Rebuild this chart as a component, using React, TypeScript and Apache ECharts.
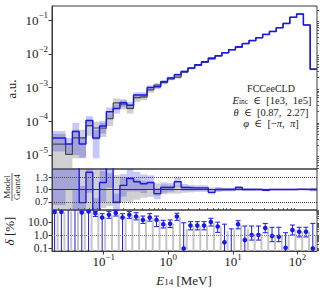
import React, { useEffect, useRef } from "react";
import * as echarts from "echarts";

// ---------- binning (log-spaced bins of E14 in MeV) ----------
const N_BINS = 39;
const LOG_E_LO = -1.8;
const LOG_E_HI = 2.3;
const EDGES = Array.from({ length: N_BINS + 1 }, (_, i) =>
  Math.pow(10, LOG_E_LO + ((LOG_E_HI - LOG_E_LO) * i) / N_BINS)
);
const CENTERS = EDGES.slice(0, N_BINS).map((e, i) => Math.sqrt(e * EDGES[i + 1]));

// ---------- data ----------
const MODEL = [
  3.2e-5, 3.2e-5, 2.1e-5, 5.0e-5, 2.1e-5, 1.05e-4, 3.2e-5, 7.2e-5, 1.9e-4, 2.4e-4,
  3.55e-4, 3.0e-4, 6.0e-4, 6.0e-4, 1.0e-3, 1.05e-3, 1.48e-3, 1.9e-3, 2.4e-3, 3.0e-3,
  3.8e-3, 4.7e-3, 5.8e-3, 7.1e-3, 8.7e-3, 1.07e-2, 1.32e-2, 1.62e-2, 2.0e-2, 2.45e-2,
  3.0e-2, 3.7e-2, 4.6e-2, 5.9e-2, 7.9e-2, 1.2e-1, 1.5e-1, 7.1e-2, 3.5e-3,
];
const GEANT4 = [
  2.1e-5, 2.1e-5, 1.05e-5, 3.2e-5, 3.2e-5, 7.4e-5, 6.3e-5, 6.2e-5, 1.2e-4, 3.5e-4,
  3.2e-4, 2.4e-4, 5.0e-4, 5.3e-4, 8.5e-4, 1.17e-3, 1.41e-3, 1.81e-3, 2.02e-3, 2.86e-3,
  3.65e-3, 4.52e-3, 5.58e-3, 7.6e-3, 8.7e-3, 1.07e-2, 1.32e-2, 1.54e-2, 2.0e-2, 2.45e-2,
  3.0e-2, 3.78e-2, 4.6e-2, 5.9e-2, 7.9e-2, 1.2e-1, 1.49e-1, 7.1e-2, 3.5e-3,
];
const MODEL_ERR = [
  0.6, 0.6, 0.5, 0.8, 0.6, 0.35, 0.75, 0.4, 0.35, 0.3,
  0.25, 0.25, 0.2, 0.2, 0.15, 0.15, 0.12, 0.1, 0.1, 0.08,
  0.07, 0.06, 0.06, 0.05, 0.05, 0.04, 0.04, 0.035, 0.03, 0.03,
  0.025, 0.025, 0.02, 0.02, 0.02, 0.02, 0.02, 0.02, 0.04,
];
const GEANT4_ERR = [
  1.0, 1.0, 1.0, 0.75, 0.75, 0.5, 0.55, 0.45, 0.4, 0.35,
  0.3, 0.3, 0.25, 0.2, 0.18, 0.15, 0.12, 0.1, 0.1, 0.08,
  0.07, 0.06, 0.06, 0.05, 0.05, 0.04, 0.04, 0.035, 0.03, 0.03,
  0.025, 0.025, 0.02, 0.02, 0.02, 0.02, 0.02, 0.02, 0.04,
];
const RATIO = [
  1.55, 1.55, 2.0, 1.6, 0.68, 1.42, 0.45, 1.17, 1.6, 0.69,
  1.1, 1.27, 1.19, 1.14, 1.17, 0.9, 1.05, 1.05, 1.19, 1.05,
  1.04, 1.04, 1.04, 0.93, 1.0, 1.0, 1.0, 1.05, 1.0, 1.0,
  1.0, 0.98, 1.0, 1.0, 1.0, 1.0, 1.01, 1.0, 1.0,
];
const DELTA = [
  63, 63, 150, 150, 57.5, 67.6, 49, 22.9, 37.2, 51.3,
  22.9, 37.2, 27.5, 15.1, 22.9, 15.1, 6.9, 7.6, 27.5, 0.089,
  5.4, 5.4, 5.4, 10.5, 4.5, 0.27, 0.03, 6.9, 0.41, 1.0,
  1.0, 3.5, 0.83, 0.74, 0.1, 2.45, 1.8, 1.8, 0.089,
];
const DELTA_UP = [
  95, 95, 95, 95, 75, 80, 70, 46, 70, 80,
  46, 70, 55, 30, 46, 30, 14, 15, 50, 9,
  11, 11, 11, 20, 10, 7, 3, 13, 5, 5,
  5, 8, 4, 4, 1.5, 6, 4, 4, 8,
];
const DELTA_DN = [
  0, 0, 0, 0, 0, 0, 28, 0, 20, 30,
  0, 20, 15, 8, 12, 4.5, 3.5, 3.8, 14, 0,
  2.5, 2.5, 2.5, 5, 1.6, 0, 0, 3, 0, 0.4,
  0.4, 1.5, 0.3, 0.3, 0, 1.0, 0.7, 0.7, 0,
];
const DELTA_G4 = [
  60, 60, 70, 70, 55, 60, 45, 25, 35, 45,
  25, 35, 28, 16, 22, 16, 7, 8, 25, 3,
  5, 5, 5, 9, 4.5, 2, 2.5, 6, 3, 1.2,
  1.2, 3.2, 1.0, 1.0, 1.0, 2.4, 1.8, 1.8, 1.0,
];

const X_TICKS = [0.1, 1, 10, 100];
const Y_TICKS = [1e-5, 1e-4, 1e-3, 1e-2, 1e-1];
const RATIO_TICKS = [0.7, 1.0, 1.3];
const DELTA_TICKS = [0.1, 1, 10];

// ---------- axis ranges ----------
const X_MIN = Math.pow(10, LOG_E_LO);
const X_MAX = Math.pow(10, LOG_E_HI);
const Y_MIN = Math.pow(10, -5.415);
const Y_MAX = Math.pow(10, -0.585);
const R_MIN = 0.5;
const R_MAX = 1.5;
const D_MIN = Math.pow(10, -1.25);
const D_MAX = Math.pow(10, 1.95);

const FONT = "'Liberation Serif', 'DejaVu Serif', 'Times New Roman', serif";
const TXT = "#222";
const BLUE = "#1a1ae6";
const FRAME = "#3a3a3a";

function minorTicks(lo: number, hi: number): number[] {
  const out: number[] = [];
  for (let e = Math.floor(Math.log10(lo)); e <= Math.ceil(Math.log10(hi)); e++) {
    for (let m = 2; m <= 9; m++) {
      const v = m * Math.pow(10, e);
      if (v > lo && v < hi) out.push(v);
    }
  }
  return out;
}

const supLabel = (v: number) => {
  const e = Math.round(Math.log10(v));
  return `{b|10}{s|${e < 0 ? "\u2212" + -e : e}}`;
};
const supRich = {
  b: { fontSize: 13, fontFamily: FONT, color: TXT, verticalAlign: "bottom", lineHeight: 13 },
  s: { fontSize: 9, fontFamily: FONT, color: TXT, verticalAlign: "bottom", lineHeight: 9, padding: [0, 0, 7, 0] },
};

function stepData(vals: number[]) {
  const d = vals.map((v, i) => [EDGES[i], v]);
  d.push([EDGES[N_BINS], vals[N_BINS - 1]]);
  return d;
}

function bandSeries(xi: number, yi: number, lo: number[], hi: number[], color: string, z: number) {
  return {
    type: "custom",
    xAxisIndex: xi,
    yAxisIndex: yi,
    silent: true,
    z,
    data: CENTERS.map((c, i) => [c, hi[i], i]),
    renderItem: (params: any, api: any) => {
      const i = api.value(2);
      const cs = params.coordSys;
      const top = cs.y;
      const bot = cs.y + cs.height;
      const x0 = api.coord([EDGES[i], hi[i]])[0];
      const x1 = api.coord([EDGES[i + 1], hi[i]])[0];
      const yHi = Math.max(top, Math.min(bot, api.coord([CENTERS[i], hi[i]])[1]));
      const yLo = lo[i] > 0 ? Math.max(top, Math.min(bot, api.coord([CENTERS[i], lo[i]])[1])) : bot;
      if (yLo - yHi <= 0) return { type: "group", children: [] };
      return {
        type: "rect",
        shape: { x: x0, y: yHi, width: x1 - x0, height: yLo - yHi },
        style: { fill: color },
      };
    },
  };
}

const xAxisBase = (gridIndex: number) => ({
  gridIndex,
  type: "log",
  logBase: 10,
  min: X_MIN,
  max: X_MAX,
  show: false,
  splitLine: { show: false },
});

const mathRich = (size: number) => ({
  i: { fontSize: size, fontFamily: FONT, fontStyle: "italic", fill: TXT, verticalAlign: "top", lineHeight: size },
  s: { fontSize: size * 0.7, fontFamily: FONT, fill: TXT, verticalAlign: "bottom", lineHeight: size * 0.7, padding: [size * 0.45, 0, 0, 0] },
  r: { fontSize: size, fontFamily: FONT, fill: TXT, verticalAlign: "top", lineHeight: size },
});

export default function App() {
  const ref = useRef<HTMLDivElement>(null);

  useEffect(() => {
    if (!ref.current) return;
    const chart = echarts.init(ref.current, undefined, { renderer: "svg" });

    const mLo = MODEL.map((v, i) => v * (1 - MODEL_ERR[i]));
    const mHi = MODEL.map((v, i) => v * (1 + MODEL_ERR[i]));
    const gLo = GEANT4.map((v, i) => v * (1 - GEANT4_ERR[i]));
    const gHi = GEANT4.map((v, i) => v * (1 + GEANT4_ERR[i]));
    const rLo = RATIO.map((r, i) => r * (1 - MODEL_ERR[i]));
    const rHi = RATIO.map((r, i) => r * (1 + MODEL_ERR[i]));
    const rgLo = GEANT4_ERR.map((e) => 1 - e);
    const rgHi = GEANT4_ERR.map((e) => 1 + e);

    const option: any = {
      animation: false,
      backgroundColor: "#fff",
      grid: [
        { left: 52, top: 6, width: 265, height: 163, show: true, borderColor: FRAME, borderWidth: 1, containLabel: false, outerBoundsMode: "none" },
        { left: 52, top: 169, width: 265, height: 41, show: true, borderColor: FRAME, borderWidth: 1, containLabel: false, outerBoundsMode: "none" },
        { left: 52, top: 210, width: 265, height: 41, show: true, borderColor: FRAME, borderWidth: 1, containLabel: false, outerBoundsMode: "none" },
      ],
      xAxis: [
        xAxisBase(0),
        xAxisBase(1),
        {
          gridIndex: 2,
          type: "log",
          logBase: 10,
          min: X_MIN,
          max: X_MAX,
          axisLine: { show: true, lineStyle: { color: FRAME, width: 1 } },
          axisTick: { show: true, inside: false, length: 3.5, customValues: X_TICKS, lineStyle: { color: FRAME } },
          axisLabel: { show: true, interval: 0, hideOverlap: false, customValues: X_TICKS, formatter: supLabel, rich: supRich, margin: 4 },
          splitLine: { show: false },
        },
        {
          gridIndex: 2,
          type: "log",
          logBase: 10,
          min: X_MIN,
          max: X_MAX,
          axisLine: { show: false },
          axisTick: { show: true, inside: false, length: 2, customValues: minorTicks(X_MIN, X_MAX), lineStyle: { color: FRAME, width: 0.8 } },
          axisLabel: { show: false },
          splitLine: { show: false },
        },
      ],
      yAxis: [
        {
          gridIndex: 0,
          type: "log",
          logBase: 10,
          min: Y_MIN,
          max: Y_MAX,
          axisLine: { show: true, lineStyle: { color: FRAME } },
          axisTick: { show: true, inside: false, length: 3.5, customValues: Y_TICKS, lineStyle: { color: FRAME } },
          axisLabel: { show: true, interval: 0, hideOverlap: false, customValues: Y_TICKS, formatter: supLabel, rich: supRich, margin: 4 },
          splitLine: { show: false },
        },
        {
          gridIndex: 0,
          type: "log",
          logBase: 10,
          min: Y_MIN,
          max: Y_MAX,
          axisLine: { show: false },
          axisTick: { show: true, inside: false, length: 2, customValues: minorTicks(Y_MIN, Y_MAX), lineStyle: { color: FRAME, width: 0.8 } },
          axisLabel: { show: false },
          splitLine: { show: false },
        },
        {
          gridIndex: 1,
          type: "value",
          min: R_MIN,
          max: R_MAX,
          axisLine: { show: true, lineStyle: { color: FRAME } },
          axisTick: { show: true, inside: false, length: 3.5, customValues: RATIO_TICKS, lineStyle: { color: FRAME } },
          axisLabel: {
            show: true,
            interval: 0,
            hideOverlap: false,
            customValues: RATIO_TICKS,
            formatter: (v: number) => v.toFixed(1),
            fontSize: 10.5,
            lineHeight: 11,
            fontFamily: FONT,
            color: TXT,
            margin: 4,
          },
          splitLine: { show: false },
        },
        {
          gridIndex: 2,
          type: "log",
          logBase: 10,
          min: D_MIN,
          max: D_MAX,
          axisLine: { show: true, lineStyle: { color: FRAME } },
          axisTick: { show: true, inside: false, length: 3.5, customValues: DELTA_TICKS, lineStyle: { color: FRAME } },
          axisLabel: {
            show: true,
            interval: 0,
            hideOverlap: false,
            customValues: DELTA_TICKS,
            formatter: (v: number) => v.toFixed(1),
            fontSize: 11.5,
            lineHeight: 11,
            fontFamily: FONT,
            color: TXT,
            margin: 4,
          },
          splitLine: { show: false },
        },
        {
          gridIndex: 2,
          type: "log",
          logBase: 10,
          min: D_MIN,
          max: D_MAX,
          axisLine: { show: false },
          axisTick: { show: true, inside: false, length: 2, customValues: minorTicks(D_MIN, D_MAX), lineStyle: { color: FRAME, width: 0.8 } },
          axisLabel: { show: false },
          splitLine: { show: false },
        },
      ],
      series: [
        bandSeries(0, 0, gLo, gHi, "rgba(110,110,110,0.32)", 1),
        bandSeries(0, 0, mLo, mHi, "rgba(40,40,230,0.26)", 2),
        {
          type: "line",
          xAxisIndex: 0,
          yAxisIndex: 0,
          step: "end",
          data: stepData(GEANT4),
          showSymbol: false,
          silent: true,
          clip: true,
          z: 3,
          lineStyle: { color: "#4a4a4a", width: 1.2 },
        },
        {
          type: "line",
          xAxisIndex: 0,
          yAxisIndex: 0,
          step: "end",
          data: stepData(MODEL),
          showSymbol: false,
          silent: true,
          clip: true,
          z: 4,
          lineStyle: { color: BLUE, width: 1.5 },
        },
        bandSeries(1, 2, rgLo, rgHi, "rgba(110,110,110,0.32)", 1),
        bandSeries(1, 2, rLo, rHi, "rgba(40,40,230,0.26)", 2),
        {
          type: "line",
          xAxisIndex: 1,
          yAxisIndex: 2,
          step: "end",
          data: stepData(RATIO),
          showSymbol: false,
          silent: true,
          clip: true,
          z: 4,
          lineStyle: { color: BLUE, width: 1.4 },
          markLine: {
            silent: true,
            symbol: "none",
            label: { show: false },
            data: [
              { yAxis: 0.7, lineStyle: { type: "dotted", color: "#444", width: 1 } },
              { yAxis: 1.0, lineStyle: { type: "solid", color: "#333", width: 1 } },
              { yAxis: 1.3, lineStyle: { type: "dotted", color: "#444", width: 1 } },
            ],
          },
        },
        {
          type: "custom",
          xAxisIndex: 2,
          yAxisIndex: 3,
          silent: true,
          z: 3,
          data: CENTERS.map((c, i) => [c, 1, i]),
          renderItem: (params: any, api: any) => {
            const i = api.value(2);
            const cs = params.coordSys;
            const top = cs.y;
            const bot = cs.y + cs.height;
            const xc = api.coord([CENTERS[i], 1])[0];
            const yOf = (v: number) =>
              v > 0 ? Math.max(top, Math.min(bot, api.coord([CENTERS[i], v])[1])) : bot;
            const xb = xc - 0.8;
            const xg = xc + 2.2;
            const children: any[] = [];
            children.push({
              type: "line",
              shape: { x1: xg, y1: bot, x2: xg, y2: yOf(DELTA_G4[i]) },
              style: { stroke: "#c6c6c6", lineWidth: 2 },
            });
            const yHi = yOf(DELTA_UP[i]);
            const yLo = yOf(DELTA_DN[i]);
            children.push({
              type: "line",
              shape: { x1: xb, y1: yLo, x2: xb, y2: yHi },
              style: { stroke: BLUE, lineWidth: 1 },
            });
            if (DELTA_UP[i] < D_MAX) {
              children.push({
                type: "line",
                shape: { x1: xb - 2.5, y1: yHi, x2: xb + 2.5, y2: yHi },
                style: { stroke: BLUE, lineWidth: 1 },
              });
            }
            if (DELTA_DN[i] > D_MIN) {
              children.push({
                type: "line",
                shape: { x1: xb - 2.5, y1: yLo, x2: xb + 2.5, y2: yLo },
                style: { stroke: BLUE, lineWidth: 1 },
              });
            }
            const v = DELTA[i];
            if (v > D_MIN && v < D_MAX) {
              children.push({
                type: "circle",
                shape: { cx: xb, cy: yOf(v), r: 2.3 },
                style: { fill: BLUE },
              });
            }
            return { type: "group", children };
          },
          markLine: {
            silent: true,
            symbol: "none",
            label: { show: false },
            lineStyle: { type: "dotted", color: "#777", width: 1 },
            data: [{ yAxis: 1 }],
          },
        },
      ],
      graphic: [
        {
          type: "text",
          x: 11,
          y: 89,
          rotation: Math.PI / 2,
          style: { text: "a.u.", fontSize: 13, fontFamily: FONT, fill: TXT, align: "center", verticalAlign: "middle" },
        },
        {
          type: "group",
          x: 12,
          y: 187,
          rotation: Math.PI / 2,
          children: [
            {
              type: "text",
              x: 0,
              y: -4.6,
              style: { text: "Model", fontSize: 9, fontFamily: FONT, fill: TXT, align: "center", verticalAlign: "middle" },
            },
            {
              type: "line",
              shape: { x1: -14, y1: 0, x2: 14, y2: 0 },
              style: { stroke: TXT, lineWidth: 0.7 },
            },
            {
              type: "text",
              x: 0,
              y: 5.2,
              style: { text: "Geant4", fontSize: 9, fontFamily: FONT, fill: TXT, align: "center", verticalAlign: "middle" },
            },
          ],
        },
        {
          type: "text",
          x: 9,
          y: 231,
          rotation: Math.PI / 2,
          style: {
            text: "{i|\u03b4} [%]",
            fontSize: 13,
            fontFamily: FONT,
            fill: TXT,
            align: "center",
            verticalAlign: "middle",
            rich: { i: { fontSize: 13, fontFamily: FONT, fontStyle: "italic", fill: TXT } },
          },
        },
        {
          type: "text",
          x: 184,
          y: 280,
          style: {
            text: "{i|E}{s|14}{r| [MeV]}",
            fontSize: 13,
            fontFamily: FONT,
            fill: TXT,
            align: "center",
            verticalAlign: "middle",
            rich: mathRich(13),
          },
        },
        {
          type: "text",
          x: 271,
          y: 88,
          style: { text: "FCCeeCLD", fontSize: 10, fontFamily: FONT, fill: TXT, align: "center", verticalAlign: "middle" },
        },
        {
          type: "text",
          x: 272,
          y: 100,
          style: {
            text: "{i|E}{s|inc}{r|  \u2208  [1e3,  1e5]}",
            fontSize: 10.5,
            fontFamily: FONT,
            fill: TXT,
            align: "center",
            verticalAlign: "middle",
            rich: mathRich(10.5),
          },
        },
        {
          type: "text",
          x: 271,
          y: 112,
          style: {
            text: "{i|\u03b8}{r|  \u2208  [0.87,  2.27]}",
            fontSize: 10.5,
            fontFamily: FONT,
            fill: TXT,
            align: "center",
            verticalAlign: "middle",
            rich: mathRich(10.5),
          },
        },
        {
          type: "text",
          x: 271,
          y: 123,
          style: {
            text: "{i|\u03c6}{r|  \u2208  [\u2212}{i|\u03c0}{r|,  }{i|\u03c0}{r|]}",
            fontSize: 10.5,
            fontFamily: FONT,
            fill: TXT,
            align: "center",
            verticalAlign: "middle",
            rich: mathRich(10.5),
          },
        },
      ],
    };

    chart.setOption(option);
    return () => chart.dispose();
  }, []);

  return (
    <div
      ref={ref}
      style={{ position: "absolute", left: 0, top: 0, width: 324, height: 292, background: "#fff" }}
    />
  );
}
